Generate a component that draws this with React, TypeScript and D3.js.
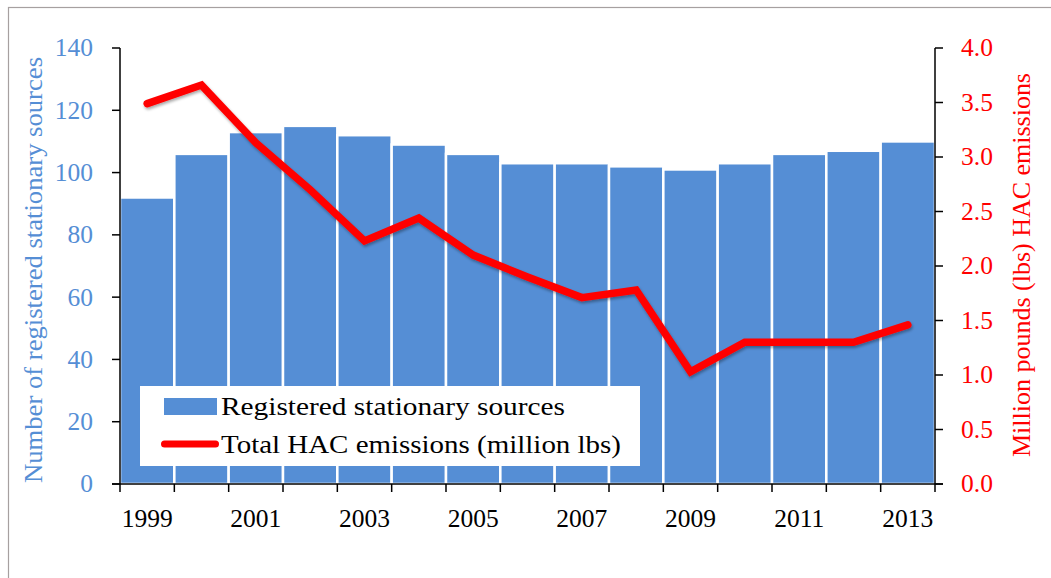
import React from "react";
import * as d3 from "d3";

const years = [1999, 2000, 2001, 2002, 2003, 2004, 2005, 2006, 2007, 2008, 2009, 2010, 2011, 2012, 2013];
const sources = [92, 106, 113, 115, 112, 109, 106, 103, 103, 102, 101, 103, 106, 107, 110];
const emissions = [3.49, 3.66, 3.13, 2.70, 2.23, 2.44, 2.10, 1.90, 1.71, 1.78, 1.03, 1.30, 1.30, 1.30, 1.46];
const leftTicks = [0, 20, 40, 60, 80, 100, 120, 140];
const rightTicks = [0, 0.5, 1.0, 1.5, 2.0, 2.5, 3.0, 3.5, 4.0];
const labelYears = [1999, 2001, 2003, 2005, 2007, 2009, 2011, 2013];
const legendLabels = ["Registered stationary sources", "Total HAC emissions (million lbs)"];
const leftTitle = "Number of registered stationary sources";
const rightTitle = "Million pounds (lbs) HAC emissions";

const W = 1051, H = 578;
const plotL = 120, plotR = 935, plotT = 48, plotB = 484;
const FONT = "'Liberation Serif', 'Times New Roman', serif";
const BLUE = "#558ed5";
const RED = "#ff0000";
const tStyle = { fontFamily: FONT };

export default function App() {
  const x = d3.scaleBand<number>().domain(years).range([plotL, plotR]).paddingInner(0).paddingOuter(0);
  const yL = d3.scaleLinear().domain([0, 140]).range([plotB, plotT]);
  const yR = d3.scaleLinear().domain([0, 4]).range([plotB, plotT]);
  const bw = x.bandwidth();
  const line = d3.line<number>()
    .x((_, i) => (x(years[i]) as number) + bw / 2)
    .y((d) => yR(d));
  const boundaries = d3.range(years.length + 1).map((i) => plotL + i * bw);

  return (
    <svg width={W} height={H} style={{ position: "fixed", left: 0, top: 0, background: "#fff" }}>
      <defs>
        <filter id="shadow" x="-10%" y="-10%" width="120%" height="130%">
          <feGaussianBlur in="SourceAlpha" stdDeviation="1.5" />
          <feOffset dx="1" dy="2" result="b" />
          <feComponentTransfer><feFuncA type="linear" slope="0.35" /></feComponentTransfer>
          <feMerge><feMergeNode /><feMergeNode in="SourceGraphic" /></feMerge>
        </filter>
      </defs>
      <rect x={8.5} y={7.5} width={1200} height={800} fill="#fff" stroke="#a6a0a0" strokeWidth={1.2} />

      {/* bars */}
      {years.map((yr, i) => (
        <rect key={yr} x={x(yr)} y={yL(sources[i])} width={bw} height={plotB - yL(sources[i])}
          fill={BLUE} stroke="#fff" strokeWidth={2.5} />
      ))}

      {/* line */}
      <path d={line(emissions) || ""} fill="none" stroke={RED} strokeWidth={7.5}
        strokeLinecap="round" strokeLinejoin="miter" filter="url(#shadow)" />

      {/* left axis */}
      <line x1={plotL} x2={plotL} y1={plotT} y2={plotB} stroke="#000" strokeWidth={1.5} />
      {leftTicks.map((t) => (
        <g key={t}>
          <line x1={plotL - 8} x2={plotL} y1={yL(t)} y2={yL(t)} stroke="#000" strokeWidth={1.5} />
          <text x={93} y={yL(t)} dy="0.33em" textAnchor="end" fontSize={25.5} fill={BLUE} style={tStyle}>{t}</text>
        </g>
      ))}
      {/* right axis */}
      <line x1={plotR} x2={plotR} y1={plotT} y2={plotB} stroke="#000" strokeWidth={1.5} />
      {rightTicks.map((t) => (
        <g key={t}>
          <line x1={plotR} x2={plotR + 8} y1={yR(t)} y2={yR(t)} stroke="#000" strokeWidth={1.5} />
          <text x={961} y={yR(t)} dy="0.33em" textAnchor="start" fontSize={25.5} fill={RED} style={tStyle}>{t.toFixed(1)}</text>
        </g>
      ))}
      {/* x axis */}
      <line x1={plotL - 8} x2={plotR + 8} y1={plotB} y2={plotB} stroke="#000" strokeWidth={1.5} />
      {boundaries.map((b, i) => (
        <line key={i} x1={b} x2={b} y1={plotB} y2={plotB + 8} stroke="#000" strokeWidth={1.5} />
      ))}
      {labelYears.map((yr) => (
        <text key={yr} x={(x(yr) as number) + bw / 2} y={527} textAnchor="middle" fontSize={25.5} fill="#000" style={tStyle}>{yr}</text>
      ))}

      {/* axis titles */}
      <text transform={`translate(42,270) rotate(-90)`} textAnchor="middle" fontSize={25} fill={BLUE} style={tStyle}
        textLength={426} lengthAdjust="spacingAndGlyphs">
        {leftTitle}
      </text>
      <text transform={`translate(1030,265) rotate(-90)`} textAnchor="middle" fontSize={25} fill={RED} style={tStyle}
        textLength={384} lengthAdjust="spacingAndGlyphs">
        {rightTitle}
      </text>

      {/* legend */}
      <rect x={140} y={386} width={500} height={80} fill="#fff" />
      <rect x={164} y={398} width={53} height={17} fill={BLUE} />
      <text x={221} y={415} fontSize={25} fill="#000" style={tStyle} textLength={344} lengthAdjust="spacingAndGlyphs">{legendLabels[0]}</text>
      <line x1={164.5} x2={215.5} y1={444} y2={444} stroke={RED} strokeWidth={7} strokeLinecap="round" />
      <text x={221} y={453} fontSize={25} fill="#000" style={tStyle} textLength={400} lengthAdjust="spacingAndGlyphs">{legendLabels[1]}</text>
    </svg>
  );
}
